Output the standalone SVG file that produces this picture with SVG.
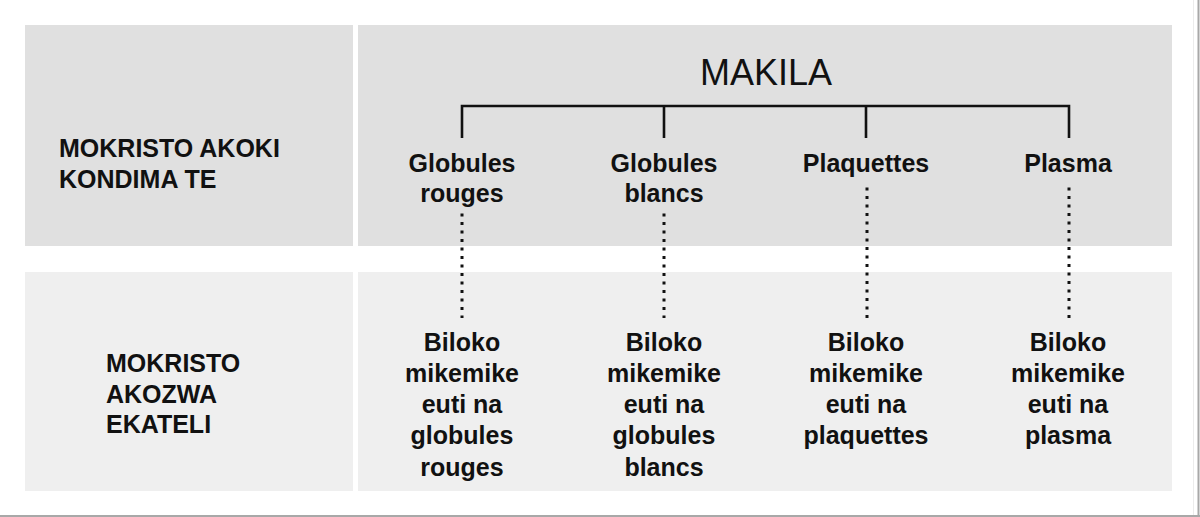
<svg xmlns="http://www.w3.org/2000/svg" width="1200" height="517" viewBox="0 0 1200 517">
  <style>
    .top { fill: #e0e0e0; }
    .bot { fill: #efefef; }
    .lbl { font-family: "Liberation Sans", Arial, sans-serif; font-weight: bold; font-size: 25px; fill: #111; }
    .c { text-anchor: middle; }
    .title { font-family: "Liberation Sans", Arial, sans-serif; font-size: 36px; fill: #111; text-anchor: middle; }
    .solid { stroke: #111; stroke-width: 2.6; fill: none; }
    .dots { stroke: #111; stroke-width: 3; stroke-dasharray: 3 5.5; fill: none; }
  </style>
  <rect width="1200" height="517" fill="#ffffff"/>
  <line x1="1193.5" y1="0" x2="1193.5" y2="515" stroke="#ececec" stroke-width="1"/>
  <line x1="1198.5" y1="0" x2="1198.5" y2="517" stroke="#a8a8a8" stroke-width="2"/>
  <line x1="0" y1="516" x2="1200" y2="516" stroke="#a8a8a8" stroke-width="2"/>

  <g id="row-top-label">
    <rect class="top" x="25" y="25" width="328" height="221"/>
    <text class="lbl" x="59" y="156.5">MOKRISTO AKOKI</text>
    <text class="lbl" x="59" y="188">KONDIMA TE</text>
  </g>
  <g id="row-top-content">
    <rect class="top" x="358" y="25" width="814" height="221"/>
  </g>
  <g id="row-bottom-label">
    <rect class="bot" x="25" y="272" width="328" height="219"/>
    <text class="lbl" x="106" y="371.5">MOKRISTO</text>
    <text class="lbl" x="106" y="402.5">AKOZWA</text>
    <text class="lbl" x="106" y="433">EKATELI</text>
  </g>
  <g id="row-bottom-content">
    <rect class="bot" x="358" y="272" width="814" height="219"/>
  </g>

  <g id="connectors">
    <path class="solid" d="M462 138 V106 H1069 V138 M664 106 V138 M866 106 V138"/>
    <line class="dots" x1="462" y1="213.5" x2="462" y2="318"/>
    <line class="dots" x1="664" y1="213.5" x2="664" y2="318"/>
    <line class="dots" x1="867" y1="187.5" x2="867" y2="318"/>
    <line class="dots" x1="1069" y1="187.5" x2="1069" y2="318"/>
  </g>

  <g id="makila">
    <text class="title" x="766" y="85">MAKILA</text>
  </g>
  <g id="globules-rouges">
    <text class="lbl c" x="462" y="171.5">Globules</text>
    <text class="lbl c" x="462" y="202">rouges</text>
  </g>
  <g id="globules-blancs">
    <text class="lbl c" x="664" y="171.5">Globules</text>
    <text class="lbl c" x="664" y="202">blancs</text>
  </g>
  <g id="plaquettes">
    <text class="lbl c" x="866" y="171.5">Plaquettes</text>
  </g>
  <g id="plasma">
    <text class="lbl c" x="1068" y="171.5">Plasma</text>
  </g>

  <g id="biloko-rouges">
    <text class="lbl c" x="462" y="350.5">Biloko</text>
    <text class="lbl c" x="462" y="381.8">mikemike</text>
    <text class="lbl c" x="462" y="413.1">euti na</text>
    <text class="lbl c" x="462" y="444.4">globules</text>
    <text class="lbl c" x="462" y="475.7">rouges</text>
  </g>
  <g id="biloko-blancs">
    <text class="lbl c" x="664" y="350.5">Biloko</text>
    <text class="lbl c" x="664" y="381.8">mikemike</text>
    <text class="lbl c" x="664" y="413.1">euti na</text>
    <text class="lbl c" x="664" y="444.4">globules</text>
    <text class="lbl c" x="664" y="475.7">blancs</text>
  </g>
  <g id="biloko-plaquettes">
    <text class="lbl c" x="866" y="350.5">Biloko</text>
    <text class="lbl c" x="866" y="381.8">mikemike</text>
    <text class="lbl c" x="866" y="413.1">euti na</text>
    <text class="lbl c" x="866" y="444.4">plaquettes</text>
  </g>
  <g id="biloko-plasma">
    <text class="lbl c" x="1068" y="350.5">Biloko</text>
    <text class="lbl c" x="1068" y="381.8">mikemike</text>
    <text class="lbl c" x="1068" y="413.1">euti na</text>
    <text class="lbl c" x="1068" y="444.4">plasma</text>
  </g>
</svg>
